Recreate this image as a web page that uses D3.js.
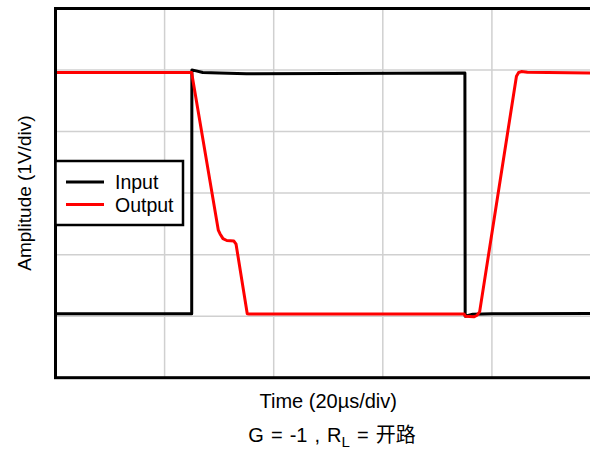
<!DOCTYPE html>
<html>
<head>
<meta charset="utf-8">
<script src="https://cdnjs.cloudflare.com/ajax/libs/d3/7.8.5/d3.min.js"></script>
<style>
  html, body { margin: 0; padding: 0; background: #fff; }
  svg text { font-family: "Liberation Sans", Arial, "Noto Sans CJK SC", sans-serif; fill: #000; }
</style>
</head>
<body>
<div id="chart"></div>
<script>

// time in us (20us/div), amplitude in V (1V/div)
var inputTime = [0, 24.97, 25.0, 25.6, 27, 30, 35, 50, 75.05, 75.1, 76.5, 80, 100];
var inputVolt = [-1.96, -1.96, 2.0, 1.99, 1.96, 1.95, 1.94, 1.945, 1.95, -2.0, -1.97, -1.96, -1.955];

var outputTime = [0, 24.95, 29.84, 30.15, 30.7, 31.4, 32.7, 33.1, 35.15, 35.5, 50, 74.9, 75.15, 76.7, 77.3, 77.75, 84.5, 84.9, 85.4, 86.5, 100];
var outputVolt = [1.96, 1.96, -0.60, -0.66, -0.74, -0.77, -0.78, -0.83, -1.96, -1.965, -1.965, -1.965, -2.0, -2.01, -1.985, -1.93, 1.90, 1.96, 1.975, 1.965, 1.95];

var timeTicks = [20, 40, 60, 80];
var voltTicks = [-2, -1, 0, 1, 2];

var seriesNames = ["Input", "Output"];
var seriesColors = ["#000000", "#ff0000"];

var xLabel = "Time (20µs/div)";
var yLabel = "Amplitude (1V/div)";


var plot = { left: 55.5, right: 601, top: 8.5, bottom: 377.7 };

var svg = d3.select("#chart")
    .append("svg")
    .attr("width", 590)
    .attr("height", 449);

var xScale = d3.scaleLinear().domain([0, 100]).range([plot.left, plot.right]);
var yScale = d3.scaleLinear().domain([-3, 3]).range([plot.bottom, plot.top]);

// grid
svg.append("g")
    .selectAll("line")
    .data(timeTicks).enter()
    .append("line")
    .attr("x1", function(d){ return xScale(d) })
    .attr("x2", function(d){ return xScale(d) })
    .attr("y1", plot.top)
    .attr("y2", plot.bottom)
    .attr("stroke", "#d0d0d0")
    .attr("stroke-width", 1.5);

svg.append("g")
    .selectAll("line")
    .data(voltTicks).enter()
    .append("line")
    .attr("x1", plot.left)
    .attr("x2", plot.right)
    .attr("y1", function(d){ return yScale(d) })
    .attr("y2", function(d){ return yScale(d) })
    .attr("stroke", "#d0d0d0")
    .attr("stroke-width", 1.5);

var line = d3.line()
    .x(function(d){ return xScale(d[0]) })
    .y(function(d){ return yScale(d[1]) });

var inputData = d3.zip(inputTime, inputVolt);
var outputData = d3.zip(outputTime, outputVolt);

[inputData, outputData].forEach(function(data, i) {
    svg.append("path")
        .datum(data)
        .attr("d", line)
        .attr("fill", "none")
        .attr("stroke", seriesColors[i])
        .attr("stroke-width", 3)
        .attr("stroke-linejoin", "round");
});

// frame
svg.append("rect")
    .attr("x", plot.left)
    .attr("y", plot.top)
    .attr("width", plot.right - plot.left)
    .attr("height", plot.bottom - plot.top)
    .attr("fill", "none")
    .attr("stroke", "#000")
    .attr("stroke-width", 3);

// legend
var legend = svg.append("g");
legend.append("rect")
    .attr("x", plot.left)
    .attr("y", 161)
    .attr("width", 127.5)
    .attr("height", 64)
    .attr("fill", "#fff")
    .attr("stroke", "#000")
    .attr("stroke-width", 2.5);

seriesNames.forEach(function(name, i) {
    var ly = 182 + i * 22.5;
    legend.append("line")
        .attr("x1", 66).attr("x2", 104)
        .attr("y1", ly).attr("y2", ly)
        .attr("stroke", seriesColors[i])
        .attr("stroke-width", 3);
    legend.append("text")
        .attr("x", 115)
        .attr("y", ly + 7)
        .style("font-size", "19.5px")
        .text(name);
});

// axis titles
svg.append("text")
    .attr("x", (plot.left + plot.right) / 2)
    .attr("y", 407.5)
    .attr("text-anchor", "middle")
    .style("font-size", "20px")
    .text(xLabel);

svg.append("text")
    .attr("transform", "translate(31," + ((plot.top + plot.bottom) / 2) + ") rotate(-90)")
    .attr("text-anchor", "middle")
    .style("font-size", "19px")
    .text(yLabel);

var caption = svg.append("text")
    .attr("x", 332)
    .attr("y", 442)
    .attr("text-anchor", "middle")
    .style("font-size", "20px")
    .style("word-spacing", "1.5px");
caption.append("tspan").text("G = -1 , R");
caption.append("tspan").attr("dy", 5).style("font-size", "15px").text("L");
caption.append("tspan").attr("dy", -5).text(" = 开路");

</script>
</body>
</html>
